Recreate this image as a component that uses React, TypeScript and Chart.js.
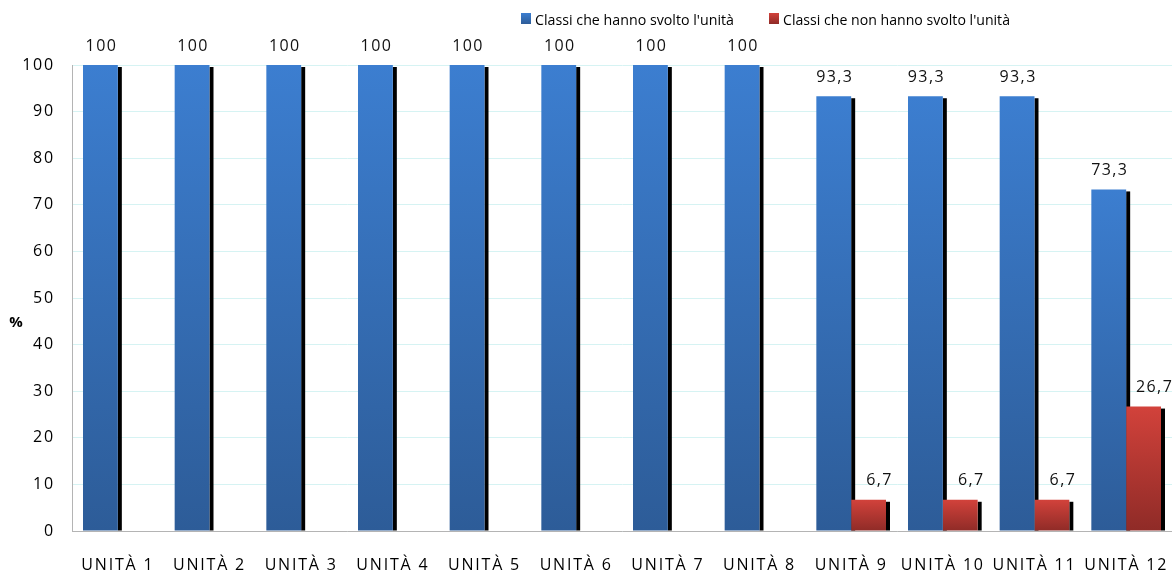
import { useEffect, useRef } from "react";
import { Chart, registerables } from "chart.js";

Chart.register(...registerables);

const categories = [
  "UNITÀ 1", "UNITÀ 2", "UNITÀ 3", "UNITÀ 4", "UNITÀ 5", "UNITÀ 6",
  "UNITÀ 7", "UNITÀ 8", "UNITÀ 9", "UNITÀ 10", "UNITÀ 11", "UNITÀ 12",
];
const doneValues = [100, 100, 100, 100, 100, 100, 100, 100, 93.3, 93.3, 93.3, 73.3];
const notDoneValues = [null, null, null, null, null, null, null, null, 6.7, 6.7, 6.7, 26.7];
const seriesLabels = ["Classi che hanno svolto l'unità", "Classi che non hanno svolto l'unità"];
const yAxisTitle = "%";
const yMin = 0;
const yMax = 100;
const yStep = 10;

const FONT = "'Open Sans', Lato, sans-serif";
const SPACING = "1.8px";
const blueStops = ["#3c7ed0", "#2d5c98"];
const redStops = ["#d2423b", "#8f2b27"];

function barGradient(stops: string[]) {
  return (c: any) => {
    const chart = c.chart;
    const { chartArea, scales } = chart;
    if (!chartArea || c.raw == null || !scales.y) return stops[0];
    const y0 = scales.y.getPixelForValue(0);
    const y1 = scales.y.getPixelForValue(c.raw);
    const g = chart.ctx.createLinearGradient(0, y1, 0, y0);
    g.addColorStop(0, stops[0]);
    g.addColorStop(1, stops[1]);
    return g;
  };
}

const spacingPlugin = {
  id: "spacing",
  beforeUpdate(chart: any) {
    (chart.ctx as any).letterSpacing = SPACING;
  },
  beforeDraw(chart: any) {
    (chart.ctx as any).letterSpacing = SPACING;
  },
};

const shadowPlugin = {
  id: "barShadow",
  beforeDatasetsDraw(chart: any) {
    const ctx = chart.ctx;
    ctx.save();
    ctx.fillStyle = "#000";
    chart.data.datasets.forEach((ds: any, i: number) => {
      const meta = chart.getDatasetMeta(i);
      meta.data.forEach((bar: any, j: number) => {
        if (ds.data[j] == null) return;
        const { x, y, base, width } = bar.getProps(["x", "y", "base", "width"], true);
        ctx.fillRect(x + width / 2, y + 2, 4, base - y - 2);
      });
    });
    ctx.restore();
  },
};

const labelPlugin = {
  id: "valueLabels",
  afterDatasetsDraw(chart: any) {
    const ctx = chart.ctx;
    ctx.save();
    (ctx as any).letterSpacing = "1.4px";
    ctx.font = `16px ${FONT}`;
    ctx.fillStyle = "#111";
    ctx.textAlign = "center";
    ctx.textBaseline = "middle";
    chart.data.datasets.forEach((ds: any, i: number) => {
      const meta = chart.getDatasetMeta(i);
      meta.data.forEach((bar: any, j: number) => {
        const v = ds.data[j];
        if (v == null) return;
        const { x, y } = bar.getProps(["x", "y"], true);
        const dx = i === 1 ? 10 : 0;
        ctx.fillText(String(v).replace(".", ","), x + dx + 1, y - 19);
      });
    });
    ctx.restore();
  },
};

const extrasPlugin = {
  id: "extras",
  afterDraw(chart: any) {
    const ctx = chart.ctx;
    ctx.save();
    (ctx as any).letterSpacing = "0px";
    ctx.font = `bold 15px ${FONT}`;
    ctx.fillStyle = "#000";
    ctx.textAlign = "center";
    ctx.textBaseline = "middle";
    ctx.fillText(yAxisTitle, 16, 323);
    const items = [
      { x: 521, w: 199, stops: blueStops, label: seriesLabels[0] },
      { x: 769, w: 227, stops: redStops, label: seriesLabels[1] },
    ];
    ctx.font = `15px ${FONT}`;
    ctx.textAlign = "left";
    ctx.textBaseline = "alphabetic";
    items.forEach((it) => {
      const g = ctx.createLinearGradient(0, 13, 0, 24);
      g.addColorStop(0, it.stops[0]);
      g.addColorStop(1, it.stops[1]);
      ctx.fillStyle = g;
      ctx.fillRect(it.x, 13, 10, 11);
      ctx.fillStyle = "#000";
      ctx.fillText(it.label, it.x + 14, 25, it.w);
    });
    ctx.restore();
  },
};

export default function App() {
  const ref = useRef<HTMLCanvasElement | null>(null);
  useEffect(() => {
    if (!ref.current) return;
    const chart = new Chart(ref.current, {
      type: "bar",
      data: {
        labels: categories,
        datasets: [
          {
            label: seriesLabels[0],
            data: doneValues,
            backgroundColor: barGradient(blueStops),
            categoryPercentage: 0.76,
            barPercentage: 1,
          },
          {
            label: seriesLabels[1],
            data: notDoneValues as any,
            backgroundColor: barGradient(redStops),
            categoryPercentage: 0.76,
            barPercentage: 1,
          },
        ],
      },
      options: {
        responsive: false,
        animation: false,
        devicePixelRatio: 1,
        layout: { padding: { top: 65, left: 0, right: 0, bottom: 0 } },
        plugins: {
          legend: { display: false },
          tooltip: { enabled: false },
        },
        scales: {
          x: {
            grid: { display: false, drawTicks: false },
            border: { display: true, color: "#b4b4b4", width: 1 },
            ticks: {
              font: { family: FONT, size: 16 },
              color: "#000",
              padding: 25,
              maxRotation: 0,
              autoSkip: false,
            },
            afterFit: (s: any) => {
              s.height = 45;
              s.paddingLeft = 0;
              s.paddingRight = 0;
            },
          },
          y: {
            min: yMin,
            max: yMax,
            grid: { color: "#d6f3f3", drawTicks: false },
            border: { display: true, color: "#b4b4b4", width: 1 },
            ticks: {
              stepSize: yStep,
              font: { family: FONT, size: 16 },
              color: "#000",
              padding: 17,
            },
            afterFit: (s: any) => {
              s.width = 72;
              s.paddingTop = 0;
              s.paddingBottom = 0;
            },
          },
        },
      },
      plugins: [spacingPlugin, shadowPlugin, labelPlugin, extrasPlugin],
    });
    return () => chart.destroy();
  }, []);
  return (
    <div style={{ position: "fixed", left: 0, top: 0, width: 1172, height: 576, background: "#fff" }}>
      <canvas ref={ref} width={1172} height={576} />
    </div>
  );
}
